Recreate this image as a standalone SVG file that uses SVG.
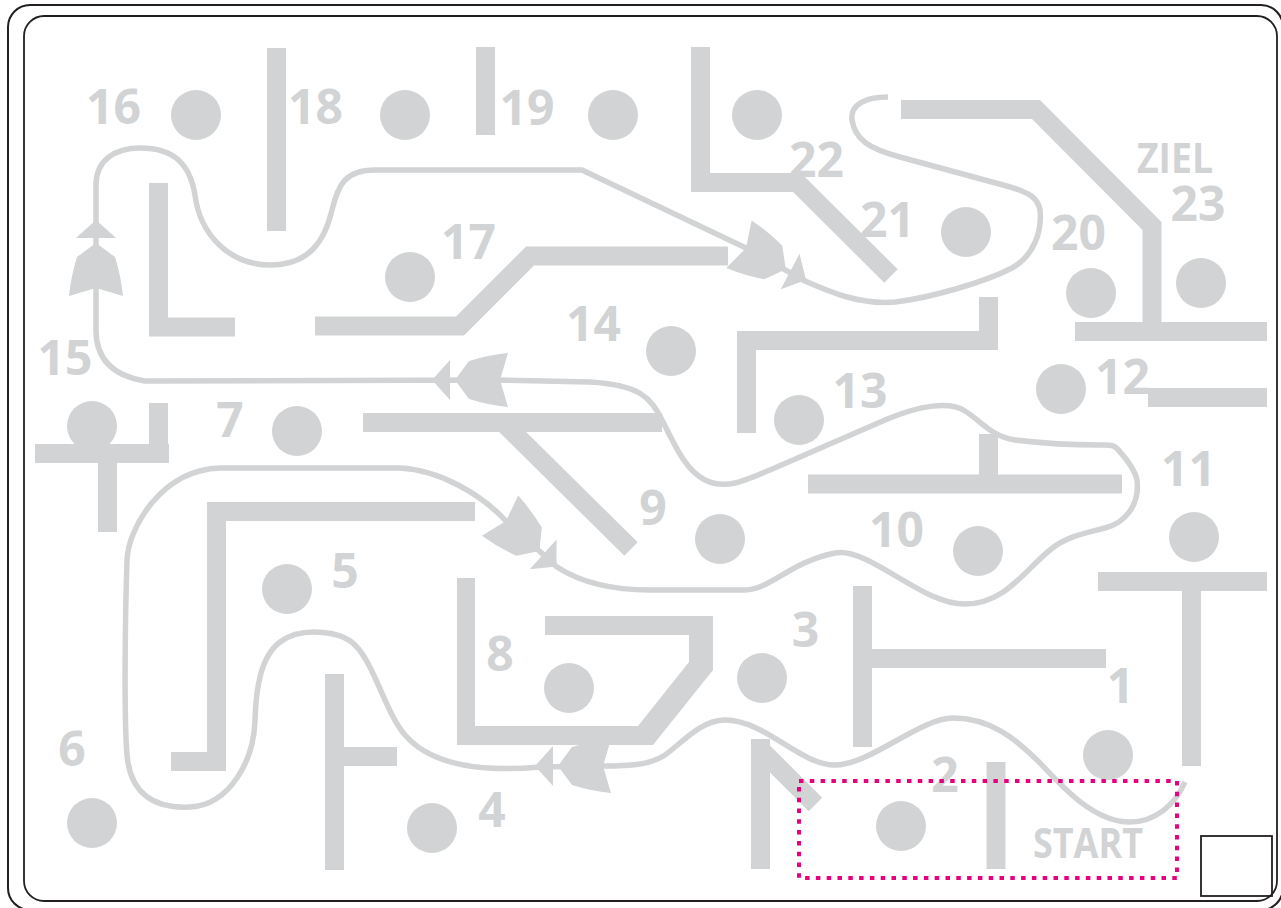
<svg xmlns="http://www.w3.org/2000/svg" xmlns:xlink="http://www.w3.org/1999/xlink" width="1281" height="908" viewBox="0 0 1281 908">
<style>
.frame{fill:none;stroke:#231f20}
.w{fill:none;stroke:#d1d3d4;stroke-width:19;stroke-linecap:butt;stroke-linejoin:miter}
.wf{fill:#d1d3d4}
.dot{fill:#d1d3d4}
.num{fill:#d1d3d4;font-family:"Open Sans","Liberation Sans",sans-serif;font-weight:bold;font-size:48px;text-anchor:middle}
.lbl{fill:#d1d3d4;font-family:"Open Sans","Liberation Sans",sans-serif;font-weight:bold;font-size:41px;text-anchor:middle}
.route{fill:none;stroke:#d1d3d4;stroke-width:5.5;stroke-linecap:butt;stroke-linejoin:round}
.ah{fill:#d1d3d4}
.startbox{fill:none;stroke:#e6007e;stroke-width:4;stroke-dasharray:4.5 6.3}
</style>
<defs>
<g id="arrowhead">
<path class="ah" d="M45,0 L31,-19 Q12,-25 -8,-27 L0,0 L-8,27 Q12,25 31,19 Z"/>
<path class="ah" d="M68,0 L50,-20 L50,20 Z"/>
</g>
</defs>
<rect width="1281" height="908" fill="#ffffff"/>
<g id="frame">
<rect class="frame" x="8" y="5" width="1275" height="905" rx="22" stroke-width="2"/>
<rect class="frame" x="24" y="16" width="1253" height="885" rx="20" stroke-width="1.8"/>
<rect class="frame" x="1201" y="836" width="71" height="60" stroke-width="1.8"/>
</g>
<g id="walls">
<path class="w" d="M276.5,48 V231"/>
<path class="w" d="M485.5,47 V135"/>
<path class="w" d="M700.5,47 V182.5 H797 L891,276"/>
<path class="w" d="M315,326 H460 L530,256 H728"/>
<path class="w" d="M158.5,183 V327 H235"/>
<path class="w" d="M35,453.5 H169 M107.5,453.5 V532 M158.5,403 V453.5"/>
<path class="w" d="M363,422.5 H662 M503,422.5 L631,549"/>
<path class="w" d="M171,761.5 H216.5 V511.5 H475"/>
<path class="w" d="M334.5,674 V870 M344,756.5 H397"/>
<polygon class="wf" points="457,578 475,578 475,726 638,726 689,662 689,635 545,635 545,616 713,616 713,670 653,745 457,745"/>
<path class="w" d="M760.5,739 V869 M760.5,749.5 L815.5,804.5"/>
<path class="w" d="M996,762 V869"/>
<path class="w" d="M862.5,586 V747 M872,658.5 H1106"/>
<path class="w" d="M1098,581.5 H1267 M1191.5,591 V766"/>
<path class="w" d="M1148,397.5 H1267"/>
<path class="w" d="M808,484 H1122 M988.5,434 V475"/>
<path class="w" d="M746.5,433 V340.5 H988.5 V297"/>
<path class="w" d="M901,109.5 H1036 L1152,226 V332 M1075,331.5 H1267"/>
</g>
<g id="f1"><circle class="dot" cx="1108" cy="755" r="25"/><text class="num" x="1120.5" y="703">1</text></g>
<g id="f2"><circle class="dot" cx="901" cy="826" r="25"/><text class="num" x="945" y="792">2</text></g>
<g id="f3"><circle class="dot" cx="762" cy="678" r="25"/><text class="num" x="805.5" y="647">3</text></g>
<g id="f4"><circle class="dot" cx="432" cy="828" r="25"/><text class="num" x="492" y="827">4</text></g>
<g id="f5"><circle class="dot" cx="287" cy="589" r="25"/><text class="num" x="345" y="588">5</text></g>
<g id="f6"><circle class="dot" cx="92" cy="823" r="25"/><text class="num" x="72" y="766">6</text></g>
<g id="f7"><circle class="dot" cx="297" cy="431" r="25"/><text class="num" x="230" y="437">7</text></g>
<g id="f8"><circle class="dot" cx="569" cy="688" r="25"/><text class="num" x="500" y="671">8</text></g>
<g id="f9"><circle class="dot" cx="720" cy="539" r="25"/><text class="num" x="653" y="525">9</text></g>
<g id="f10"><circle class="dot" cx="978" cy="551" r="25"/><text class="num" x="896.5" y="547">10</text></g>
<g id="f11"><circle class="dot" cx="1194" cy="537" r="25"/><text class="num" x="1188.5" y="486">11</text></g>
<g id="f12"><circle class="dot" cx="1061" cy="389" r="25"/><text class="num" x="1122.5" y="394">12</text></g>
<g id="f13"><circle class="dot" cx="799" cy="420" r="25"/><text class="num" x="860" y="408">13</text></g>
<g id="f14"><circle class="dot" cx="671" cy="351" r="25"/><text class="num" x="593.5" y="341">14</text></g>
<g id="f15"><circle class="dot" cx="92" cy="426" r="25"/><text class="num" x="65" y="375">15</text></g>
<g id="f16"><circle class="dot" cx="196" cy="115" r="25"/><text class="num" x="113.5" y="124">16</text></g>
<g id="f17"><circle class="dot" cx="410" cy="277" r="25"/><text class="num" x="468.5" y="259">17</text></g>
<g id="f18"><circle class="dot" cx="405" cy="115" r="25"/><text class="num" x="315.5" y="124">18</text></g>
<g id="f19"><circle class="dot" cx="613" cy="115" r="25"/><text class="num" x="527" y="125">19</text></g>
<g id="f20"><circle class="dot" cx="1091" cy="293" r="25"/><text class="num" x="1078.5" y="250">20</text></g>
<g id="f21"><circle class="dot" cx="966" cy="232" r="25"/><text class="num" x="887.5" y="237">21</text></g>
<g id="f22"><circle class="dot" cx="757" cy="115" r="25"/><text class="num" x="816.5" y="177">22</text></g>
<g id="f23"><circle class="dot" cx="1201" cy="283" r="25"/><text class="num" x="1198" y="221">23</text><text class="lbl" x="1175" y="173" textLength="76" lengthAdjust="spacingAndGlyphs">ZIEL</text></g>
<g id="connectors">
<path class="route" d="M1185,782 C1175,805 1155,822 1130,822 C1095,822 1065,790 1040,763 C1015,738 990,718 953,718 C920,718 870,765 835,765 C800,765 765,720 725,720 C700,720 680,745 665,755 C650,765 630,766 603,766 L540,767 C495,771 435,770 405,735 C385,712 375,665 355,645 C340,630 300,627 280,642 C260,657 256,690 255,720 C254,760 230,805 190,807 C150,809 130,790 127,755 C124,720 125,620 127,560 C128,530 160,470 220,468 L400,468 C440,470 482,495 506,521 L557,567 C580,582 610,590 650,590 L745,590 C770,590 790,562 835,553 C870,547 920,604 965,604 C1005,604 1025,570 1050,550 C1065,537 1085,533 1105,528 C1125,523 1140,505 1137,480 C1135,470 1125,457 1120,452 C1115,444 1110,445 1100,445 C1070,445 1040,443 1015,440 C990,436 980,420 965,411 C950,401 920,405 885,420 L770,470 C745,481 725,490 705,480 C685,470 675,445 662,420 C650,397 640,385 590,382 L500,380 L145,381 C120,377 96,365 96,330 L96,185 C96,160 115,148 140,148 C175,148 190,165 195,195 C200,235 230,265 270,265 C310,265 325,240 332,210 C338,185 345,170 375,170 L582,170 L746,248 L805,281 C830,292 860,305 895,302 C930,298 985,282 1012,268 C1035,255 1042,230 1040,210 C1038,198 1030,192 1003,185 L900,157 C870,149 855,140 852,120 C850,105 865,97 888,97"/>
<use xlink:href="#arrowhead" transform="translate(96,288) rotate(-90)"/>
<use xlink:href="#arrowhead" transform="translate(500,380) rotate(180)"/>
<use xlink:href="#arrowhead" transform="translate(603,766) rotate(180)"/>
<use xlink:href="#arrowhead" transform="translate(506,521) rotate(42)"/>
<use xlink:href="#arrowhead" transform="translate(746,248) rotate(28)"/>
</g>
<g id="start">
<text class="lbl" x="1088" y="858" textLength="110" lengthAdjust="spacingAndGlyphs">START</text>
<rect class="startbox" x="799" y="781" width="378" height="97"/>
</g>
</svg>
